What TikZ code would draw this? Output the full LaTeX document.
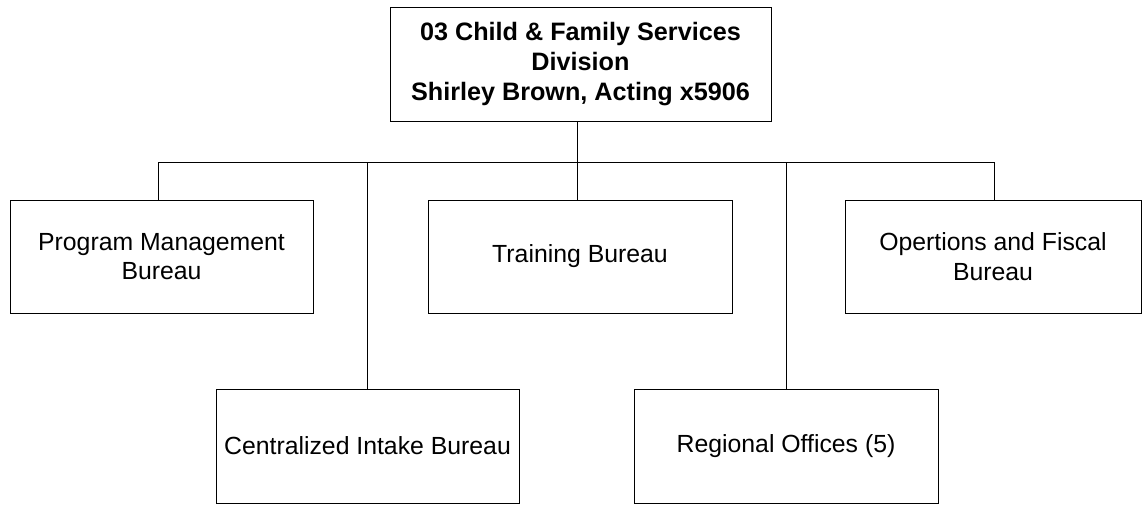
\documentclass[tikz,border=0pt]{standalone}
\usepackage{fontspec}
\setmainfont{Liberation Sans}
\begin{document}
\begin{tikzpicture}[x=1pt,y=-1pt,
  box/.style={draw=black,line width=1pt,rectangle,inner sep=0pt,align=center,
    font=\fontsize{24.8}{29.5}\selectfont},
  headbox/.style={box,font=\fontsize{25.2}{30}\selectfont\bfseries},
  conn/.style={draw=black,line width=1pt}]
\useasboundingbox (0,0) rectangle (1144,504);
\node[headbox,minimum width=381pt,minimum height=114pt] (top) at (580.5,64) {03 Child \& Family Services\\Division\\Shirley Brown, Acting x5906};
\node[box,minimum width=303pt,minimum height=113pt] (pm) at (161.5,256.5) {Program Management\\Bureau};
\node[box,minimum width=304pt,minimum height=113pt] (tr) at (580,256.5) {Training Bureau};
\node[box,minimum width=296pt,minimum height=113pt] (of) at (993,256.5) {Opertions and Fiscal\\Bureau};
\node[box,minimum width=303pt,minimum height=114pt] (ci) at (367.5,446) {Centralized Intake Bureau};
\node[box,minimum width=304pt,minimum height=114pt] (ro) at (786,446) {Regional Offices (5)};
\coordinate (hub) at (577,162);
\coordinate (bl) at (158,162);
\coordinate (br) at (994,162);
\draw[conn] (top.south -| hub) -- (hub);
\draw[conn] (bl) -- (br);
\draw[conn] (bl) -- (bl |- pm.north);
\draw[conn] (hub) -- (hub |- tr.north);
\draw[conn] (br) -- (br |- of.north);
\draw[conn] (ci.north |- hub) -- (ci.north);
\draw[conn] (ro.north |- hub) -- (ro.north);
\end{tikzpicture}
\end{document}
